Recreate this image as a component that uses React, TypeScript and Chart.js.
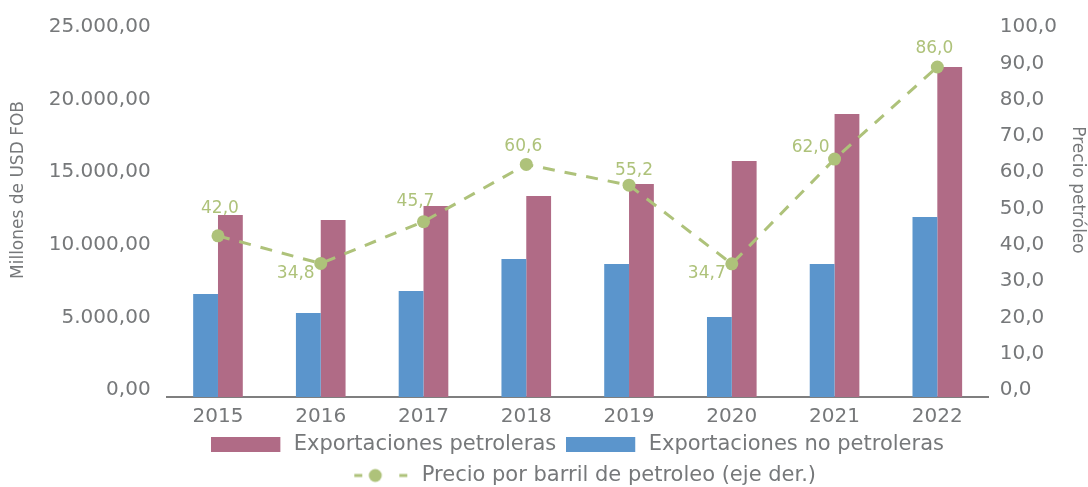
import React, { useEffect, useRef } from 'react';
import { Chart, registerables } from 'chart.js';

Chart.register(...registerables);

// ---------- data ----------
const years = ['2015', '2016', '2017', '2018', '2019', '2020', '2021', '2022'];
const exportacionesNoPetroleras = [7090, 5790, 7300, 9500, 9160, 5510, 9160, 12400];
const exportacionesPetroleras = [12530, 12190, 13150, 13840, 14670, 16250, 19490, 22730];
const precioBarril = [42.0, 34.8, 45.7, 60.6, 55.2, 34.7, 62.0, 86.0];
const precioLabelAnchor = ['topFar', 'bottomLeft', 'topLeft', 'top', 'topRight', 'bottomLeft', 'left', 'top'];

const leftAxisTitle = 'Millones de USD FOB';
const rightAxisTitle = 'Precio petróleo';
const legendPetroleras = 'Exportaciones petroleras';
const legendNoPetroleras = 'Exportaciones no petroleras';
const legendPrecio = 'Precio por barril de petroleo (eje der.)';

// ---------- styles ----------
const FONT = '"DejaVu Sans", sans-serif';
const BLUE = '#5b95cc';
const PINK = '#b06b86';
const GREEN = '#aec27a';
const GRAY = '#76787a';
const AXIS = '#7f7f7f';

const anchorOffsets: Record<string, [number, number]> = {
  top: [-3, -18],
  topFar: [2, -27],
  topLeft: [-8, -20],
  topRight: [5, -15],
  bottomLeft: [-25, 10],
  left: [-24, -12],
};

const fmtLeft = (v: number) => {
  const s = Math.round(v).toString().replace(/\B(?=(\d{3})+(?!\d))/g, '.');
  return s + ',00';
};
const fmtOne = (v: number) => v.toFixed(1).replace('.', ',');

function boxIcon(color: string) {
  const c = document.createElement('canvas');
  c.width = 72;
  c.height = 15;
  const g = c.getContext('2d')!;
  g.fillStyle = color;
  g.fillRect(0, 0, 69, 15);
  return c;
}

function lineIcon() {
  const c = document.createElement('canvas');
  c.width = 72;
  c.height = 16;
  const g = c.getContext('2d')!;
  g.strokeStyle = GREEN;
  g.lineWidth = 3;
  g.beginPath();
  g.moveTo(15, 8);
  g.lineTo(23, 8);
  g.moveTo(60, 8);
  g.lineTo(68, 8);
  g.stroke();
  g.fillStyle = GREEN;
  g.beginPath();
  g.arc(36, 8, 6.5, 0, Math.PI * 2);
  g.fill();
  return c;
}

const overlayPlugin = {
  id: 'overlay',
  afterDatasetsDraw(chart: any) {
    const ctx = chart.ctx as CanvasRenderingContext2D;
    const meta = chart.getDatasetMeta(2);
    ctx.save();
    ctx.font = '17px ' + FONT;
    ctx.fillStyle = GREEN;
    ctx.textAlign = 'center';
    ctx.textBaseline = 'middle';
    meta.data.forEach((pt: any, i: number) => {
      const off = anchorOffsets[precioLabelAnchor[i]] || [0, -18];
      ctx.fillText(fmtOne(precioBarril[i]), pt.x + off[0], pt.y + off[1]);
    });
    ctx.restore();
  },
  afterDraw(chart: any) {
    const ctx = chart.ctx as CanvasRenderingContext2D;
    ctx.save();
    ctx.font = '17px ' + FONT;
    ctx.fillStyle = GRAY;
    ctx.textAlign = 'center';
    ctx.textBaseline = 'middle';
    ctx.translate(19, 190);
    ctx.rotate(-Math.PI / 2);
    ctx.fillText(leftAxisTitle, 0, 0);
    ctx.restore();
    ctx.save();
    ctx.font = '17px ' + FONT;
    ctx.fillStyle = GRAY;
    ctx.textAlign = 'center';
    ctx.textBaseline = 'middle';
    ctx.translate(1077, 190);
    ctx.rotate(Math.PI / 2);
    ctx.fillText(rightAxisTitle, 0, 0);
    ctx.restore();
  },
};

export default function App() {
  const ref = useRef<HTMLCanvasElement | null>(null);

  useEffect(() => {
    if (!ref.current) return;
    const icons = [boxIcon(BLUE), boxIcon(PINK), lineIcon()];
    const legendOrder = [1, 0, 2];
    const chart = new Chart(ref.current, {
      type: 'bar',
      data: {
        labels: years,
        datasets: [
          {
            label: legendNoPetroleras,
            data: exportacionesNoPetroleras,
            backgroundColor: BLUE,
            yAxisID: 'y',
            categoryPercentage: 0.483,
            barPercentage: 1,
            order: 1,
          },
          {
            label: legendPetroleras,
            data: exportacionesPetroleras,
            backgroundColor: PINK,
            yAxisID: 'y',
            categoryPercentage: 0.483,
            barPercentage: 1,
            order: 1,
          },
          {
            type: 'line',
            label: legendPrecio,
            data: precioBarril,
            yAxisID: 'yLine',
            borderColor: GREEN,
            backgroundColor: GREEN,
            borderWidth: 3,
            borderDash: [12, 10],
            pointRadius: 6.5,
            pointBackgroundColor: GREEN,
            pointBorderWidth: 0,
            tension: 0,
            order: 0,
          } as any,
        ],
      },
      options: {
        responsive: false,
        animation: false,
        devicePixelRatio: 1,
        layout: { padding: { top: 34, left: 0, right: 0, bottom: 0 } },
        font: { family: FONT } as any,
        plugins: {
          tooltip: { enabled: false },
          legend: {
            position: 'bottom',
            fullSize: false,
            labels: {
              usePointStyle: true,
              pointStyleWidth: 72,
              boxHeight: 15,
              padding: 10,
              color: GRAY,
              font: { family: FONT, size: 21 },
              sort: (a: any, b: any) => legendOrder[a.datasetIndex] - legendOrder[b.datasetIndex],
              generateLabels: (ch: any) => {
                const items = Chart.defaults.plugins.legend.labels.generateLabels(ch);
                return items.map((it: any) => ({
                  ...it,
                  pointStyle: icons[it.datasetIndex],
                  lineWidth: 0,
                }));
              },
            },
          },
        },
        scales: {
          x: {
            grid: { display: false, drawTicks: false },
            border: { display: true, color: AXIS, width: 2 },
            ticks: { color: GRAY, font: { family: FONT, size: 20 }, padding: 8 },
            afterFit: (s: any) => {
              s.height = 27;
            },
          },
          y: {
            position: 'left',
            min: 0,
            max: 25000,
            grid: { display: false, drawTicks: false },
            border: { display: false },
            ticks: {
              stepSize: 5000,
              color: GRAY,
              font: { family: FONT, size: 20 },
              padding: 16,
              labelOffset: -7,
              callback: (v: any) => fmtLeft(Number(v)),
            },
            afterFit: (s: any) => {
              s.width = 166.6;
            },
          },
          yR: {
            position: 'right',
            min: 0,
            max: 100,
            grid: { display: false, drawTicks: false },
            border: { display: false },
            ticks: {
              stepSize: 10,
              color: GRAY,
              font: { family: FONT, size: 20 },
              padding: 11,
              labelOffset: -7,
              callback: (v: any) => fmtOne(Number(v)),
            },
            afterFit: (s: any) => {
              s.width = 99.3;
            },
          },
          yLine: {
            position: 'right',
            display: false,
            min: 0,
            max: 94.6,
          },
        },
      },
      plugins: [overlayPlugin],
    });
    return () => chart.destroy();
  }, []);

  return (
    <div style={{ width: 1088, height: 496, position: 'relative' }}>
      <style>{'body{margin:0;overflow:hidden;background:#fff}'}</style>
      <canvas ref={ref} width={1088} height={496} style={{ display: 'block' }} />
    </div>
  );
}
